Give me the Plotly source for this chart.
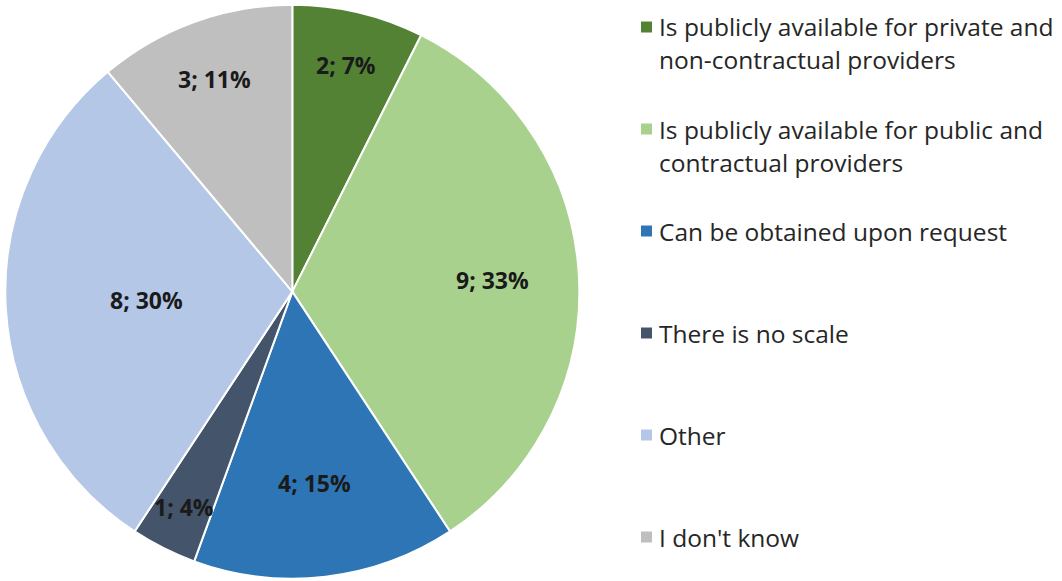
import math
import plotly.graph_objects as go

# Survey answers: is the fee scale publicly available?
categories = [
    "Is publicly available for private and non-contractual providers",
    "Is publicly available for public and contractual providers",
    "Can be obtained upon request",
    "There is no scale",
    "Other",
    "I don't know",
]
legend_lines = [
    ["Is publicly available for private and", "non-contractual providers"],
    ["Is publicly available for public and", "contractual providers"],
    ["Can be obtained upon request"],
    ["There is no scale"],
    ["Other"],
    ["I don't know"],
]
counts = [2, 9, 4, 1, 8, 3]
colors = ["#548235", "#A9D18E", "#2E75B6", "#44546A", "#B4C7E7", "#BFBFBF"]

W, H = 1062, 581
dom_x = [0.005, 0.5455]
dom_y = [0.004, 0.992]

fig = go.Figure(
    go.Pie(
        labels=categories,
        values=counts,
        sort=False,
        direction="clockwise",
        rotation=0,
        marker=dict(colors=colors, line=dict(color="white", width=2)),
        textinfo="none",
        domain=dict(x=dom_x, y=dom_y),
        showlegend=False,
        hoverinfo="label+value+percent",
    )
)

# Data labels "count; percent" placed along each slice's mid-angle
cx = (dom_x[0] + dom_x[1]) / 2 * W
cy = (1 - (dom_y[0] + dom_y[1]) / 2) * H
R = (dom_y[1] - dom_y[0]) * H / 2
label_radius = [0.81, 0.70, 0.67, 0.84, 0.51, 0.79]

annotations = []
total = sum(counts)
cum = 0
for c, rf in zip(counts, label_radius):
    mid = (cum + c / 2) / total * 2 * math.pi
    cum += c
    px = cx + rf * R * math.sin(mid)
    py = cy - rf * R * math.cos(mid)
    annotations.append(dict(
        x=px / W, y=1 - py / H, xref="paper", yref="paper",
        xanchor="center", yanchor="middle", showarrow=False,
        text=f"{c}; {round(100 * c / total)}%",
        font=dict(family="Open Sans", size=23, color="#1a1a1a", weight="bold"),
    ))

# Legend drawn at the right: colour square plus wrapped label lines
shapes = []
row_step = 102
first_row = 27
line_step = 33
for i, (lines, col) in enumerate(zip(legend_lines, colors)):
    y0 = first_row + i * row_step
    shapes.append(dict(
        type="rect", xref="paper", yref="paper",
        x0=641 / W, x1=652 / W,
        y0=1 - (y0 + 5.5) / H, y1=1 - (y0 - 5.5) / H,
        fillcolor=col, line=dict(width=0),
    ))
    for j, txt in enumerate(lines):
        annotations.append(dict(
            x=657 / W, y=1 - (y0 + j * line_step) / H,
            xref="paper", yref="paper",
            xanchor="left", yanchor="middle",
            text=txt, showarrow=False,
            font=dict(family="Open Sans", size=24.5, color="#262626"),
        ))

fig.update_layout(
    width=W, height=H,
    margin=dict(l=0, r=0, t=0, b=0),
    paper_bgcolor="white",
    plot_bgcolor="white",
    annotations=annotations,
    shapes=shapes,
)

fig.write_html("out.html")
